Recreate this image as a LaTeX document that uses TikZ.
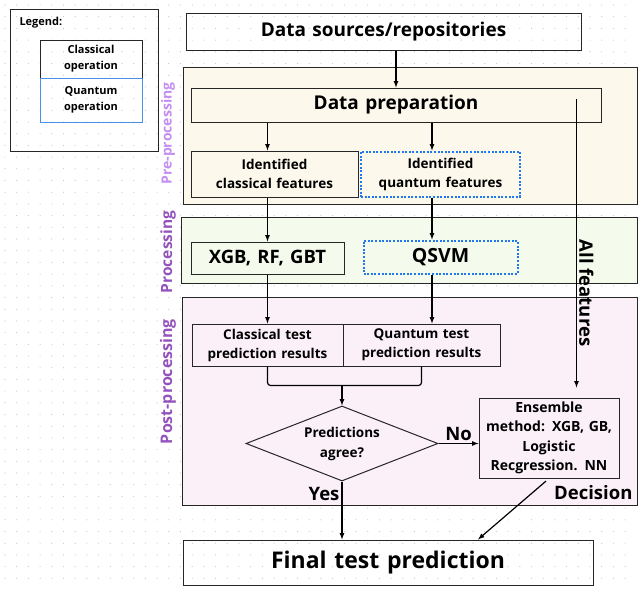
\documentclass[tikz,border=0pt]{standalone}
\usepackage{fontspec}
\setmainfont{Open Sans}
\usepackage{xcolor}
\usetikzlibrary{shapes,arrows}
\definecolor{qblue}{HTML}{4A90E2}
\definecolor{qdots}{HTML}{1F78F0}
\definecolor{prefill}{HTML}{FCF8EC}
\definecolor{procfill}{HTML}{F4FAEC}
\definecolor{postfill}{HTML}{FBF0F8}
\definecolor{lightpurple}{HTML}{C48EF0}
\definecolor{darkpurple}{HTML}{9352BC}
\tikzstyle{block} = [rectangle, draw=black!85, line width=1pt, inner sep=0pt,
    text centered, font=\bfseries]
\tikzstyle{qblock} = [block, draw=qdots, dash pattern=on 2pt off 1.6pt, line width=2pt]
\tikzstyle{region} = [rectangle, draw=black!85, line width=1pt, inner sep=0pt]
\tikzstyle{decision} = [diamond, draw=black!85, line width=1pt, inner sep=0pt,
    aspect=2.56, minimum width=192pt, minimum height=75pt, text centered, font=\bfseries]
\tikzstyle{sidelabel} = [rotate=90, font=\bfseries]
\tikzstyle{lbl} = [font=\bfseries\fontsize{18.5}{20}\selectfont, inner sep=2pt]
\tikzstyle{arrow} = [draw, -latex, line width=1.2pt]
\tikzstyle{line} = [draw, line width=1.2pt]

\begin{document}
\begin{tikzpicture}[x=1pt, y=1pt, node distance=60pt]
			\useasboundingbox (0,0) rectangle (638,-590);
			% dotted canvas
			\foreach \gx in {5,16.7,...,636} {
				\foreach \gy in {5,16.7,...,588} {
					\fill[black!22] (\gx,-\gy) circle (0.6);
				}
			}

			% legend
			\node [region] (legend) at (84,-80) [minimum width=148pt, minimum height=142pt] {};
			\node [anchor=west, font=\bfseries\fontsize{11}{13}\selectfont] (legendtitle) at (16,-23) {Legend:};
			\node [block, text width=102pt, minimum height=38pt, font=\bfseries\fontsize{11}{16}\selectfont] (legclass) at (91,-59) {Classical\\operation};
			\node [block, draw=qblue, text width=102pt, minimum height=44pt, font=\bfseries\fontsize{11}{16}\selectfont, below of=legclass, node distance=41pt] (legquant) {Quantum\\operation};

			% stage regions
			\node [region, fill=prefill, minimum width=454pt, minimum height=137pt] (preregion) at (410,-135.5) {};
			\node [region, fill=procfill, minimum width=456pt, minimum height=66pt] (procregion) at (409,-250) {};
			\node [region, fill=postfill, minimum width=455pt, minimum height=208pt] (postregion) at (409.5,-401) {};
			\node [sidelabel, text=lightpurple, font=\bfseries\fontsize{14}{16}\selectfont] (prelabel) at ([xshift=-242pt, yshift=2pt]preregion.center) {Pre-processing};
			\node [sidelabel, text=darkpurple, font=\bfseries\fontsize{15.5}{17}\selectfont] (proclabel) at ([xshift=-241pt, yshift=-2pt]procregion.center) {Processing};
			\node [sidelabel, text=darkpurple, font=\bfseries\fontsize{16}{18}\selectfont] (postlabel) at ([xshift=-241.5pt, yshift=19.5pt]postregion.center) {Post-processing};

			% blocks
			\node [block, text width=395pt, minimum height=37pt, font=\bfseries\fontsize{19}{21}\selectfont] (sources) at (383.5,-31.5) {Data sources/repositories};
			\node [block, text width=410pt, minimum height=34pt, font=\bfseries\fontsize{19}{21}\selectfont, below of=sources, node distance=73.5pt, xshift=12.5pt] (prep) {Data preparation};
			\node [block, text width=167pt, minimum height=46pt, font=\bfseries\fontsize{13.5}{19}\selectfont, below of=prep, node distance=69pt, xshift=-121.5pt] (clsfeat) {Identified\\classical features};
			\node [qblock, text width=159pt, minimum height=45pt, font=\bfseries\fontsize{13.5}{19}\selectfont, right of=clsfeat, node distance=166pt] (qfeat) {Identified\\quantum features};
			\node [block, text width=153pt, minimum height=32pt, font=\bfseries\fontsize{18.5}{20}\selectfont, below of=clsfeat, node distance=84pt, xshift=-7pt] (xgb) {XGB, RF, GBT};
			\node [qblock, text width=154pt, minimum height=33pt, font=\bfseries\fontsize{19.5}{21}\selectfont, below of=qfeat, node distance=83pt] (qsvm) {QSVM};
			\node [block, text width=151pt, minimum height=42pt, font=\bfseries\fontsize{13.5}{19}\selectfont, below of=xgb, node distance=87pt] (ctest) {Classical test\\prediction results};
			\node [block, text width=157pt, minimum height=42pt, font=\bfseries\fontsize{13.5}{19}\selectfont, right of=ctest, node distance=154pt] (qtest) {Quantum test\\prediction results};
			\node [decision, font=\bfseries\fontsize{13.5}{20}\selectfont, align=center, below of=ctest, node distance=98.5pt, xshift=74.5pt] (agree) {Predictions\\agree?};
			\node [block, text width=140pt, minimum height=80pt, font=\bfseries\fontsize{14}{19.5}\selectfont, right of=agree, node distance=207pt, yshift=5.5pt] (ens) {Ensemble\\method: XGB, GB,\\Logistic\\Recgression. NN};
			\node [block, text width=410pt, minimum height=45pt, font=\bfseries\fontsize{23}{25}\selectfont, below of=agree, node distance=119pt, xshift=46pt] (final) {Final test prediction};

			\coordinate (qcol) at ([xshift=-8.5pt]qfeat.north);
			\coordinate (merge) at ([yshift=20pt]agree.north);
			\coordinate (allf) at ([xshift=-25pt, yshift=6pt]prep.east);

			% Draw edges
			\path [arrow] (sources.south -| prep.north) -- (prep.north);
			\path [arrow] (prep.south -| xgb.north) -- (clsfeat.north -| xgb.north);
			\path [arrow] (prep.south -| qcol) -- (qcol);
			\path [arrow] (clsfeat.south -| xgb.north) -- (xgb.north);
			\path [arrow] (qfeat.south -| qcol) -- (qsvm.north -| qcol);
			\path [arrow] (xgb.south) -- (ctest.north);
			\path [arrow] (qsvm.south -| qcol) -- (qtest.north -| qcol);
			\path [line, rounded corners=3pt] (ctest.south) |- (merge) -| (qtest.south);
			\path [arrow] (merge) -- (agree.north);
			\path [arrow, shorten >=10pt] (allf) -- (ens.north -| allf)
				node [lbl, rotate=-90, anchor=south, pos=0.65] (allfeat) {All features};
			\path [arrow] (agree.east) -- (agree.east -| ens.west)
				node [lbl, midway, above] (no) {No};
			\path [arrow] (agree.south) -- (final.north -| agree.south)
				node [lbl, pos=0.22, left] (yes) {Yes};
			\path [arrow, shorten <=4pt] (ens.south) -- ([xshift=90pt]final.north);
			\node [lbl, anchor=west] (decision) at ([xshift=3pt, yshift=-14pt]ens.south) {Decision};
%
	\end{tikzpicture}
\end{document}
